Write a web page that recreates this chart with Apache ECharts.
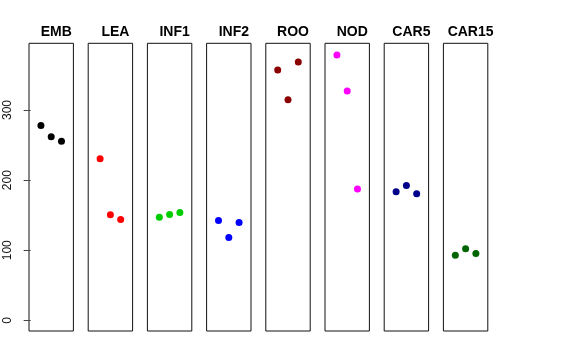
<!DOCTYPE html>
<html>
<head>
<meta charset="utf-8">
<script src="https://cdn.jsdelivr.net/npm/echarts@6/dist/echarts.min.js"></script>
<style>html,body{margin:0;padding:0;background:#fff}#c{width:576px;height:360px}</style>
</head>
<body>
<div id="c"></div>
<script>
var categories = ['EMB', 'LEA', 'INF1', 'INF2', 'ROO', 'NOD', 'CAR5', 'CAR15'];
var xPositions = [1, 2, 3];
var EMB = [278, 262, 255.5];
var LEA = [230.5, 150.5, 144];
var INF1 = [147, 151, 154];
var INF2 = [142.5, 118, 139.5];
var ROO = [357, 314.5, 368.5];
var NOD = [378.5, 327, 187.5];
var CAR5 = [183.5, 192.5, 180.5];
var CAR15 = [93, 102, 95.5];
var yTicks = [0, 100, 200, 300];

var seriesValues = [EMB, LEA, INF1, INF2, ROO, NOD, CAR5, CAR15];
var colors = ['#000000', '#FF0000', '#00CD00', '#0000FF', '#8B0000', '#FF00FF', '#00008B', '#006400'];

var font = '"Liberation Sans", Arial, Helvetica, sans-serif';
var grids = [], xAxes = [], yAxes = [], series = [], titles = [];
var panelLeft0 = 29, panelStep = 59.2, panelW = 44.4, panelTop = 43.3, panelH = 287.7;
categories.forEach(function (cat, i) {
  var l = panelLeft0 + i * panelStep;
  grids.push({left: l, top: panelTop, width: panelW, height: panelH, show: true, borderColor: '#111', borderWidth: 1, backgroundColor: 'transparent'});
  xAxes.push({type: 'value', gridIndex: i, min: -0.16, max: 4.16, show: false});
  var ya = {type: 'value', gridIndex: i, min: -15.2, max: 395.2, splitLine: {show: false}, axisLine: {show: false}};
  if (i === 0) {
    ya.axisTick = {show: true, length: 7, customValues: yTicks, lineStyle: {color: '#444'}};
    ya.axisLabel = {show: true, customValues: yTicks, rotate: 90, margin: 15, fontSize: 12, color: '#111', fontFamily: font};
  } else {
    ya.axisTick = {show: false};
    ya.axisLabel = {show: false};
  }
  yAxes.push(ya);
  series.push({
    type: 'scatter', xAxisIndex: i, yAxisIndex: i, symbol: 'circle', symbolSize: 7,
    itemStyle: {color: colors[i], opacity: 1},
    data: seriesValues[i].map(function (v, k) { return [xPositions[k], v]; })
  });
  titles.push({text: cat, left: l + panelW / 2, top: 20, textAlign: 'center',
    textStyle: {fontSize: 14, fontWeight: 'bold', color: '#000', fontFamily: font}});
});

var chart = echarts.init(document.getElementById('c'), null, {renderer: 'canvas'});
chart.setOption({
  animation: false,
  backgroundColor: '#fff',
  title: titles,
  grid: grids,
  xAxis: xAxes,
  yAxis: yAxes,
  series: series
});
</script>
</body>
</html>
